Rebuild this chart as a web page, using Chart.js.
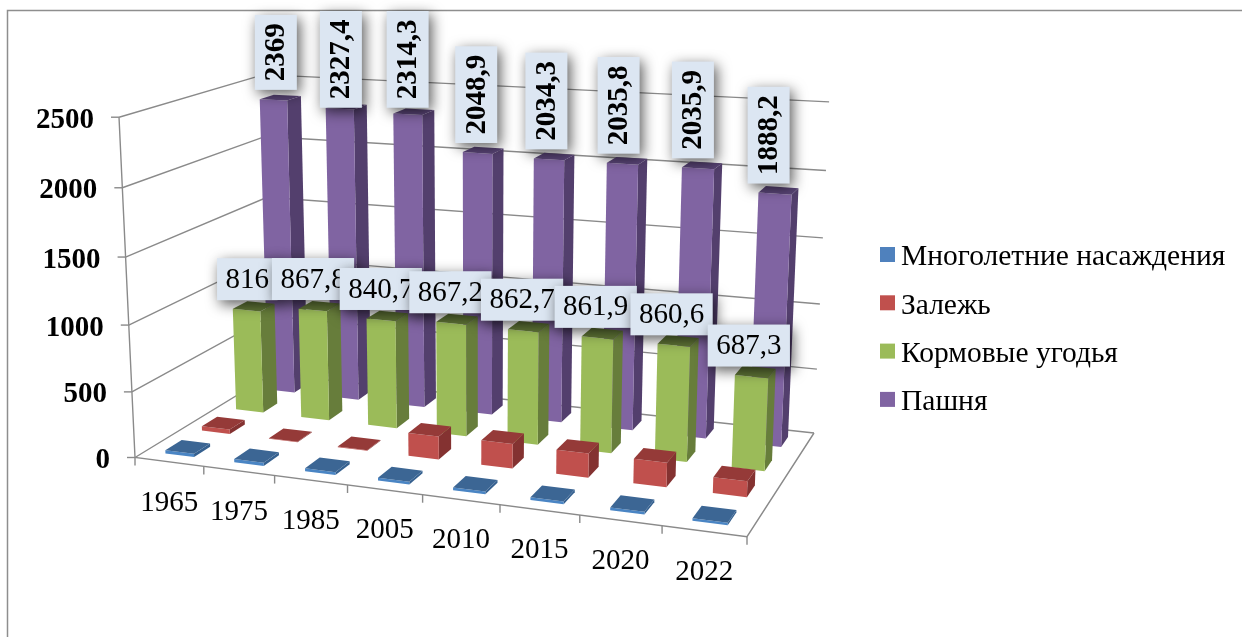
<!DOCTYPE html>
<html>
<head>
<meta charset="utf-8">
<style>
  html, body { margin: 0; padding: 0; background: #fff; }
  canvas { display: block; }
</style>
<script src="https://cdn.jsdelivr.net/npm/chart.js@4"></script>
</head>
<body>
<canvas id="chart" width="1242" height="637"></canvas>
<script>
var years = ['1965', '1975', '1985', '2005', '2010', '2015', '2020', '2022'];
var seriesNames = ['Многолетние насаждения', 'Залежь', 'Кормовые угодья', 'Пашня'];
var mnogoletnie = [25, 24, 22, 20, 20, 20, 20, 18];
var zalezh = [35, 5, 5, 175, 185, 180, 180, 115];
var kormovye = [816, 867.8, 840.7, 867.2, 862.7, 861.9, 860.6, 687.3];
var pashnya = [2369, 2327.4, 2314.3, 2048.9, 2034.3, 2035.8, 2035.9, 1888.2];

var frontColors = ['#4A85C4', '#C0504D', '#9BBB59', '#8064A2'];
var sideColors = ['#35608F', '#843231', '#677D3B', '#533F6D'];
var topColors = ['#3C6694', '#953A38', '#5F7436', '#5A4577'];

// floor of the box on screen: front-left, front-right, back-right, back-left
var floor = [[135, 457.5], [747, 536.7], [814, 433], [272, 374]];
var upVector = [-21.27, -345.5, -0.0444];   // full wall height, homogeneous
var barDepth = 0.44;
var fontName = '"Liberation Serif", "Times New Roman", serif';
var lineColor = '#8A8A8A';

function makeFloorMatrix(q) {
    var dx1 = q[1][0] - q[2][0], dx2 = q[3][0] - q[2][0], sx = q[0][0] - q[1][0] + q[2][0] - q[3][0];
    var dy1 = q[1][1] - q[2][1], dy2 = q[3][1] - q[2][1], sy = q[0][1] - q[1][1] + q[2][1] - q[3][1];
    var det = dx1 * dy2 - dx2 * dy1;
    var g = (sx * dy2 - dx2 * sy) / det;
    var h = (dx1 * sy - sx * dy1) / det;
    return {
        xu: q[1][0] - q[0][0] + g * q[1][0], xd: q[3][0] - q[0][0] + h * q[3][0], x0: q[0][0],
        yu: q[1][1] - q[0][1] + g * q[1][1], yd: q[3][1] - q[0][1] + h * q[3][1], y0: q[0][1],
        g: g, h: h
    };
}
var m = makeFloorMatrix(floor);

// u along the years, d into the picture, h up the wall (all 0..1)
function project(u, d, h) {
    var w = 1 + m.g * u + m.h * d + h * upVector[2];
    return [
        (m.xu * u + m.xd * d + m.x0 + h * upVector[0]) / w,
        (m.yu * u + m.yd * d + m.y0 + h * upVector[1]) / w
    ];
}

function poly(ctx, pts, fill) {
    ctx.beginPath();
    ctx.moveTo(pts[0][0], pts[0][1]);
    for (var i = 1; i < pts.length; i++) ctx.lineTo(pts[i][0], pts[i][1]);
    ctx.closePath();
    ctx.fillStyle = fill;
    ctx.fill();
}

function line(ctx, pts) {
    ctx.beginPath();
    ctx.moveTo(pts[0][0], pts[0][1]);
    for (var i = 1; i < pts.length; i++) ctx.lineTo(pts[i][0], pts[i][1]);
    ctx.stroke();
}

function drawWalls(chart) {
    var ctx = chart.ctx;
    var yScale = chart.scales.y;
    var area = chart.chartArea;

    ctx.strokeStyle = '#8E8E8E';
    ctx.lineWidth = 1.5;
    line(ctx, [[7.5, 637], [7.5, 10.5], [1242, 10.5]]);

    ctx.strokeStyle = lineColor;
    ctx.lineWidth = 1.4;
    yScale.ticks.forEach(function (tick) {
        var h = (area.bottom - yScale.getPixelForValue(tick.value)) / area.height;
        line(ctx, [project(0, 0, h), project(0, 1, h), project(1, 1, h)]);
        var p = project(0, 0, h);
        line(ctx, [[p[0] - 8, p[1]], p]);
        ctx.fillStyle = '#000';
        ctx.font = 'bold 29px ' + fontName;
        ctx.textAlign = 'right';
        ctx.textBaseline = 'middle';
        ctx.fillText(String(tick.value), p[0] - 25, p[1] + 3);
    });
    line(ctx, [project(0, 0, 1), project(0, 0, 0), project(1, 0, 0), project(1, 1, 0)]);

    years.forEach(function (year, j) {
        var p = project(j / years.length, 0, 0);
        line(ctx, [p, [p[0], p[1] + 8]]);
        var c = project((j + 0.5) / years.length, 0, 0);
        ctx.fillStyle = '#000';
        ctx.font = '29px ' + fontName;
        ctx.textAlign = 'center';
        ctx.textBaseline = 'middle';
        ctx.fillText(year, c[0], c[1] + 41);
    });
    var last = project(1, 0, 0);
    line(ctx, [last, [last[0], last[1] + 8]]);
}

function barCorners(chart, s, el) {
    var area = chart.chartArea;
    var u = (el.x - area.left) / area.width;
    var halfU = el.width / 2 / area.width;
    var h = (area.bottom - el.y) / area.height;
    var count = chart.data.datasets.length;
    var d0 = (s + 0.5 - barDepth / 2) / count;
    var d1 = (s + 0.5 + barDepth / 2) / count;
    return {
        u: u,
        fl0: project(u - halfU, d0, 0), fr0: project(u + halfU, d0, 0), br0: project(u + halfU, d1, 0),
        fl1: project(u - halfU, d0, h), fr1: project(u + halfU, d0, h), br1: project(u + halfU, d1, h),
        bl1: project(u - halfU, d1, h)
    };
}

function drawBars(chart) {
    var ctx = chart.ctx;
    for (var s = chart.data.datasets.length - 1; s >= 0; s--) {
        chart.getDatasetMeta(s).data.forEach(function (el) {
            var b = barCorners(chart, s, el);
            poly(ctx, [b.fr0, b.br0, b.br1, b.fr1], sideColors[s]);
            poly(ctx, [b.fl0, b.fr0, b.fr1, b.fl1], frontColors[s]);
            poly(ctx, [b.fl1, b.fr1, b.br1, b.bl1], topColors[s]);
        });
    }
}

function labelText(v) {
    return String(v).replace('.', ',');
}

function labelBox(ctx, x, y, w, h) {
    ctx.save();
    ctx.shadowColor = 'rgba(0,0,0,0.65)';
    ctx.shadowBlur = 14;
    ctx.shadowOffsetX = 3;
    ctx.shadowOffsetY = 4;
    ctx.fillStyle = '#DCE6F2';
    ctx.fillRect(x, y, w, h);
    ctx.restore();
}

function drawLabels(chart) {
    var ctx = chart.ctx;

    // Пашня: rotated bold labels, held under the frame when they run out of room
    chart.getDatasetMeta(3).data.forEach(function (el, j) {
        var b = barCorners(chart, 3, el);
        var text = labelText(pashnya[j]);
        ctx.font = 'bold 29px ' + fontName;
        var len = ctx.measureText(text).width + 17;
        var cx = (b.fl1[0] + b.fr1[0]) / 2 + 3 - 10 * b.u;
        var top = Math.max(11, (b.fl1[1] + b.fr1[1]) / 2 - 10 - len);
        labelBox(ctx, cx - 21, top, 42, len);
        ctx.save();
        ctx.translate(cx, top + len / 2);
        ctx.rotate(-Math.PI / 2);
        ctx.fillStyle = '#000';
        ctx.textAlign = 'center';
        ctx.textBaseline = 'middle';
        ctx.fillText(text, 0, 1);
        ctx.restore();
    });

    // Кормовые угодья: horizontal labels, each one over the one before it
    chart.getDatasetMeta(2).data.forEach(function (el, j) {
        var b = barCorners(chart, 2, el);
        var text = labelText(kormovye[j]);
        ctx.font = '29px ' + fontName;
        var len = ctx.measureText(text).width + 17;
        var cx = (b.fl1[0] + b.fr1[0]) / 2 + 1 - 4 * b.u;
        var top = (b.fl1[1] + b.fr1[1]) / 2 - 10 - 42;
        labelBox(ctx, cx - len / 2, top, len, 42);
        ctx.fillStyle = '#000';
        ctx.textAlign = 'center';
        ctx.textBaseline = 'middle';
        ctx.fillText(text, cx, top + 22);
    });
}

function drawLegend(chart) {
    var ctx = chart.ctx;
    chart.data.datasets.forEach(function (ds, i) {
        var y = 254.5 + i * 48.3;
        ctx.fillStyle = ds.backgroundColor;
        ctx.fillRect(880, y - 7.5, 15, 15);
        ctx.fillStyle = '#000';
        ctx.font = '29.5px ' + fontName;
        ctx.textAlign = 'left';
        ctx.textBaseline = 'middle';
        ctx.fillText(ds.label, 901, y + 3);
    });
}

var box3d = {
    id: 'box3d',
    beforeDatasetsDraw: function (chart) {
        drawWalls(chart);
        drawBars(chart);
        drawLabels(chart);
        drawLegend(chart);
        return false;
    }
};

var allValues = [mnogoletnie, zalezh, kormovye, pashnya];
var legendColors = ['#4F81BD', '#C0504D', '#9BBB59', '#8064A2'];

new Chart(document.getElementById('chart').getContext('2d'), {
    type: 'bar',
    data: {
        labels: years,
        datasets: seriesNames.map(function (name, i) {
            return {
                label: name,
                data: allValues[i],
                backgroundColor: legendColors[i],
                grouped: false,
                categoryPercentage: 1,
                barPercentage: 0.42
            };
        })
    },
    options: {
        responsive: false,
        animation: false,
        plugins: { legend: { display: false }, tooltip: { enabled: false } },
        scales: {
            x: { display: false },
            y: { display: false, min: 0, max: 2500, ticks: { stepSize: 500 } }
        }
    },
    plugins: [box3d]
});
</script>
</body>
</html>
